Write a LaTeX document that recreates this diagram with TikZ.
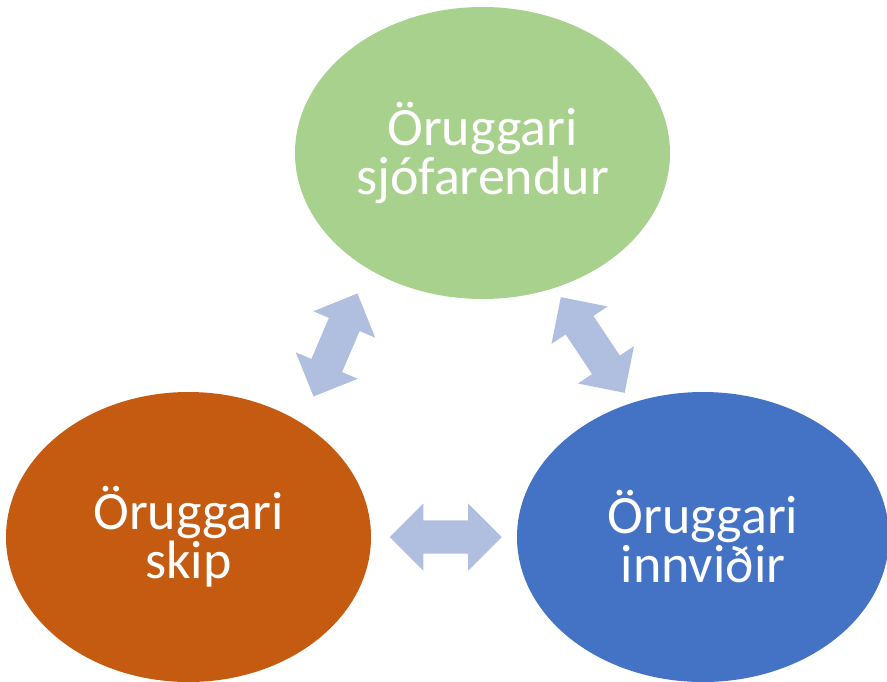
\documentclass[tikz,border=0pt]{standalone}
\usepackage{fontspec}
\setmainfont{Carlito}
\usetikzlibrary{shapes.geometric,shapes.arrows,calc}
\definecolor{cgreen}{HTML}{A9D18E}
\definecolor{corange}{HTML}{C55A11}
\definecolor{cblue}{HTML}{4472C4}
\definecolor{carrow}{HTML}{B0BEE0}
\tikzset{
  bubble/.style={ellipse, inner sep=0pt, text=white, align=center,
    font=\fontsize{54}{49}\selectfont},
  dblarrow/.style={double arrow, fill=carrow, draw=none, inner xsep=0pt,
    inner ysep=16.5pt, double arrow head extend=17pt, minimum height=112pt,
    double arrow tip angle=90}
}
\begin{document}
\begin{tikzpicture}[x=1pt,y=-1pt]
\useasboundingbox (0,0) rectangle (887,681);
\node[bubble, fill=cgreen, minimum width=375pt, minimum height=292pt] (g) at (482.5,153) {Öruggari\\sjófarendur};
\node[bubble, fill=corange, minimum width=365pt, minimum height=290pt] (o) at (188.5,537) {Öruggari\\skip};
\node[bubble, fill=cblue, minimum width=372pt, minimum height=290pt] (b) at (703,537) {Öruggari\\innviðir};
\node[dblarrow, rotate=66.9] (a1) at ($(g)!0.5!(o)$) {};
\node[dblarrow, rotate=-56.3, minimum height=115pt] (a2) at ($(g)!0.5!(b)$) {};
\node[dblarrow] (a3) at ($(o)!0.5!(b)$) {};
\end{tikzpicture}
\end{document}
